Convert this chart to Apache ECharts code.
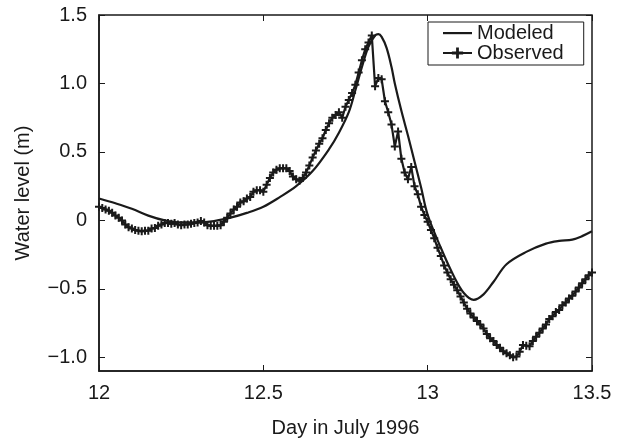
<!DOCTYPE html>
<html>
<head>
<meta charset="utf-8">
<script src="https://cdn.jsdelivr.net/npm/echarts@6/dist/echarts.min.js"></script>
<style>html,body{margin:0;padding:0;background:#fff}#c{width:618px;height:438px}</style>
</head>
<body>
<div id="c"></div>
<script>
var xTicks = [12, 12.5, 13, 13.5];
var yTicks = [-1.0, -0.5, 0, 0.5, 1.0, 1.5];
var modeledDays = [12.00,12.05,12.10,12.15,12.20,12.25,12.30,12.35,12.40,12.45,12.50,12.55,12.60,12.65,12.70,12.73,12.76,12.78,12.80,12.82,12.84,12.85,12.86,12.875,12.89,12.90,12.92,12.94,12.96,12.98,13.00,13.04,13.08,13.11,13.14,13.17,13.20,13.24,13.30,13.36,13.40,13.44,13.47,13.50];
var modeledLevel = [0.16,0.125,0.085,0.035,0.00,-0.015,-0.015,-0.005,0.02,0.055,0.10,0.17,0.25,0.36,0.52,0.64,0.79,0.95,1.12,1.27,1.35,1.36,1.34,1.26,1.12,1.00,0.80,0.62,0.43,0.24,0.04,-0.20,-0.41,-0.53,-0.58,-0.54,-0.45,-0.32,-0.23,-0.17,-0.15,-0.14,-0.115,-0.08];
var observedDays = [12.00,12.01,12.02,12.03,12.04,12.05,12.06,12.07,12.08,12.09,12.10,12.11,12.12,12.13,12.14,12.15,12.16,12.17,12.18,12.19,12.20,12.21,12.22,12.23,12.24,12.25,12.26,12.27,12.28,12.29,12.30,12.31,12.32,12.33,12.34,12.35,12.36,12.37,12.38,12.39,12.40,12.41,12.42,12.43,12.44,12.45,12.46,12.47,12.48,12.49,12.50,12.51,12.52,12.53,12.54,12.55,12.56,12.57,12.58,12.59,12.60,12.61,12.62,12.63,12.64,12.65,12.66,12.67,12.68,12.69,12.70,12.71,12.72,12.73,12.74,12.75,12.76,12.77,12.78,12.79,12.80,12.81,12.82,12.83,12.84,12.85,12.86,12.87,12.88,12.89,12.90,12.91,12.92,12.93,12.94,12.95,12.96,12.97,12.98,12.99,13.00,13.01,13.02,13.03,13.04,13.05,13.06,13.07,13.08,13.09,13.10,13.11,13.12,13.13,13.14,13.15,13.16,13.17,13.18,13.19,13.20,13.21,13.22,13.23,13.24,13.25,13.26,13.27,13.28,13.29,13.30,13.31,13.32,13.33,13.34,13.35,13.36,13.37,13.38,13.39,13.40,13.41,13.42,13.43,13.44,13.45,13.46,13.47,13.48,13.49,13.50];
var observedLevel = [0.10,0.09,0.08,0.07,0.055,0.035,0.02,0.00,-0.03,-0.05,-0.06,-0.07,-0.075,-0.08,-0.075,-0.075,-0.06,-0.055,-0.04,-0.03,-0.02,-0.02,-0.025,-0.02,-0.03,-0.035,-0.03,-0.03,-0.025,-0.02,-0.015,-0.005,-0.015,-0.035,-0.04,-0.04,-0.04,-0.035,-0.01,0.02,0.05,0.08,0.10,0.13,0.14,0.16,0.17,0.21,0.22,0.22,0.21,0.26,0.31,0.35,0.37,0.38,0.38,0.38,0.36,0.32,0.30,0.29,0.31,0.35,0.40,0.46,0.51,0.56,0.60,0.66,0.71,0.75,0.77,0.79,0.75,0.83,0.88,0.93,0.99,1.08,1.17,1.25,1.30,1.35,0.98,1.04,1.03,0.87,0.79,0.70,0.54,0.65,0.45,0.35,0.30,0.39,0.25,0.19,0.10,0.04,-0.01,-0.07,-0.13,-0.20,-0.26,-0.33,-0.38,-0.43,-0.47,-0.51,-0.555,-0.60,-0.645,-0.68,-0.71,-0.735,-0.76,-0.79,-0.83,-0.86,-0.88,-0.91,-0.93,-0.955,-0.97,-0.985,-1.00,-0.995,-0.96,-0.91,-0.915,-0.92,-0.88,-0.85,-0.82,-0.79,-0.76,-0.72,-0.70,-0.67,-0.655,-0.62,-0.60,-0.57,-0.55,-0.52,-0.49,-0.46,-0.43,-0.40,-0.38];

function pairs(xs, ys){ return xs.map(function(x,i){ return [x, ys[i]]; }); }
var ink = '#1a1a1a';
var font = '"Liberation Sans", Arial, sans-serif';
var fs = 20;
function yFmt(v){ if (Math.abs(v) < 1e-9) return '0'; var s = Math.abs(v).toFixed(1); return (v < 0 ? '\u2212' : '') + s; }
function xFmt(v){ return String(+v.toFixed(2)); }
var plus = 'path://M3,0H5V3H8V5H5V8H3V5H0V3H3Z';
var lineIcon = 'path://M0,0M0,6H29V8.2H0ZM29,14';

var chart = echarts.init(document.getElementById('c'), null, {renderer:'canvas'});
chart.setOption({
  animation:false,
  backgroundColor:'#fff',
  grid:{left:99, right:26, top:15, bottom:67, show:true, borderColor:ink, borderWidth:1.5, backgroundColor:'transparent', containLabel:false, outerBoundsMode:'none'},
  legend:{
    left:428, top:22, orient:'vertical', itemGap:0, itemWidth:29, itemHeight:14, itemTextGap:9,
    padding:[1,20,2,14], borderColor:ink, borderWidth:1, backgroundColor:'#fff', borderRadius:0,
    textStyle:{fontFamily:font, fontSize:fs, color:ink, lineHeight:20},
    data:[{name:'Modeled', icon:lineIcon, itemStyle:{color:ink}}, {name:'Observed'}]
  },
  xAxis:[{
    type:'value', min:12, max:13.5, interval:0.5,
    name:'Day in July 1996', nameLocation:'middle', nameGap:47,
    nameTextStyle:{fontFamily:font, fontSize:fs, color:ink},
    axisLine:{show:true, onZero:false, lineStyle:{color:ink, width:1.5}},
    axisTick:{show:true, inside:true, length:6, lineStyle:{color:ink, width:1}},
    axisLabel:{show:true, fontFamily:font, fontSize:fs, color:ink, margin:12, formatter:xFmt},
    splitLine:{show:false}
  },{
    type:'value', position:'top', min:12, max:13.5, interval:0.5,
    axisLine:{show:false, onZero:false},
    axisTick:{show:true, inside:true, length:6, lineStyle:{color:ink, width:1}},
    axisLabel:{show:false}, splitLine:{show:false}
  }],
  yAxis:[{
    type:'value', min:-1.1, max:1.5,
    name:'Water level (m)', nameLocation:'middle', nameGap:66, nameRotate:90,
    nameTextStyle:{fontFamily:font, fontSize:fs, color:ink},
    axisLine:{show:true, onZero:false, lineStyle:{color:ink, width:1.5}},
    axisTick:{show:true, inside:true, length:6, lineStyle:{color:ink, width:1}, customValues:yTicks},
    axisLabel:{show:true, fontFamily:font, fontSize:fs, color:ink, margin:12, formatter:yFmt, customValues:yTicks},
    splitLine:{show:false}
  },{
    type:'value', position:'right', min:-1.1, max:1.5,
    axisLine:{show:false, onZero:false},
    axisTick:{show:true, inside:true, length:6, lineStyle:{color:ink, width:1}, customValues:yTicks},
    axisLabel:{show:false, customValues:yTicks}, splitLine:{show:false}
  }],
  series:[{
    name:'Modeled', type:'line', xAxisIndex:0, yAxisIndex:0,
    data:pairs(modeledDays, modeledLevel),
    smooth:0.35, symbol:'none', showSymbol:false,
    lineStyle:{color:ink, width:2.2}, itemStyle:{color:ink}, z:3
  },{
    name:'Observed', type:'line', xAxisIndex:0, yAxisIndex:0,
    data:pairs(observedDays, observedLevel),
    symbol:plus, symbolSize:8, showSymbol:true, showAllSymbol:true,
    lineStyle:{color:ink, width:2.2}, itemStyle:{color:ink, borderWidth:0}, z:2
  }]
});
</script>
</body>
</html>
